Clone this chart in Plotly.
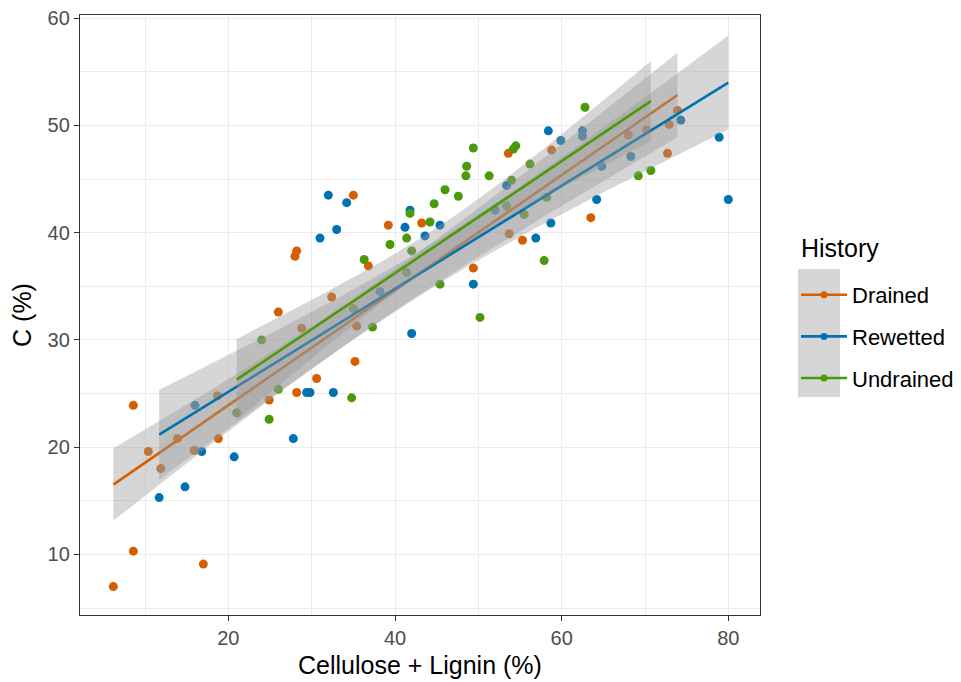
import numpy as np
import plotly.graph_objects as go

# ---- data ----
drained_x = [8.6, 24.9, 10.4, 18.8, 13.9, 15.9, 11.9, 8.6, 17.0, 6.2, 18.7, 35.0, 28.2, 28.0,
             39.2, 43.2, 36.8, 32.4, 26.0, 28.8, 35.4, 35.2, 30.6, 28.2, 53.6, 58.8, 63.5,
             53.7, 55.3, 49.4, 73.9, 72.9, 70.2, 68.0, 72.7]
drained_y = [23.9, 24.4, 19.6, 20.8, 20.8, 19.7, 18.0, 10.3, 9.1, 7.0, 24.8, 43.5, 38.3, 37.8,
             40.7, 40.9, 36.9, 34.0, 32.6, 31.1, 31.3, 28.0, 26.4, 25.1, 47.4, 47.7, 41.4,
             39.9, 39.3, 36.7, 51.4, 50.1, 49.6, 49.1, 47.4]

rewetted_x = [16.0, 16.8, 20.7, 14.8, 11.7, 32.0, 34.2, 33.0, 31.0, 41.8, 41.2, 43.6, 38.2,
              42.0, 29.4, 29.8, 32.6, 27.8, 58.4, 62.5, 62.5, 59.9, 53.4, 45.4, 58.7, 64.2,
              56.9, 49.4, 74.3, 78.9, 68.3, 64.8, 80.0, 52.0]
rewetted_y = [23.9, 19.6, 19.1, 16.3, 15.3, 43.5, 42.8, 40.3, 39.5, 42.1, 40.5, 39.7, 34.5,
              30.6, 25.1, 25.1, 25.1, 20.8, 49.5, 49.5, 49.0, 48.6, 44.4, 40.7, 40.9, 43.1,
              39.5, 35.2, 50.5, 48.9, 47.1, 46.2, 43.1, 42.1]

undrained_x = [21.0, 24.9, 41.8, 44.2, 41.4, 39.4, 42.0, 36.3, 35.0, 37.3, 24.0, 26.0, 34.8,
               62.8, 49.4, 54.5, 54.2, 48.6, 48.5, 56.2, 51.3, 46.0, 47.6, 54.0, 44.7, 41.4,
               53.4, 55.5, 57.9, 45.4, 50.2, 70.7, 69.2, 58.2]
undrained_y = [23.2, 22.6, 41.8, 41.0, 39.5, 38.9, 38.3, 37.5, 32.9, 31.2, 30.0, 25.4, 24.6,
               51.7, 47.9, 48.1, 47.8, 46.2, 45.3, 46.4, 45.3, 44.0, 43.4, 44.9, 42.7, 36.3,
               42.5, 41.7, 37.4, 35.2, 32.1, 45.8, 45.3, 43.3]

groups = ["Drained", "Rewetted", "Undrained"]
colors = {"Drained": "#D55E00", "Rewetted": "#0072B2", "Undrained": "#4A9A0A"}
xs = {"Drained": drained_x, "Rewetted": rewetted_x, "Undrained": undrained_x}
ys = {"Drained": drained_y, "Rewetted": rewetted_y, "Undrained": undrained_y}


def t975(df):
    z = 1.959964
    return z + (z**3 + z) / (4 * df) + (5 * z**5 + 16 * z**3 + 3 * z) / (96 * df**2)


def lm_fit(x, y, n=80):
    x = np.asarray(x, float)
    y = np.asarray(y, float)
    b, a = np.polyfit(x, y, 1)
    resid = y - (a + b * x)
    dof = len(x) - 2
    s = np.sqrt(np.sum(resid**2) / dof)
    sxx = np.sum((x - x.mean())**2)
    grid = np.linspace(x.min(), x.max(), n)
    fit = a + b * grid
    se = s * np.sqrt(1 / len(x) + (grid - x.mean())**2 / sxx)
    t = t975(dof)
    return grid, fit, fit - t * se, fit + t * se


fig = go.Figure()

for g in groups:
    fig.add_trace(go.Scatter(x=xs[g], y=ys[g], mode="markers",
                             marker=dict(color=colors[g], size=9),
                             showlegend=False, hoverinfo="x+y", name=g))

for g in groups:
    gx, fit, lo, hi = lm_fit(xs[g], ys[g])
    fig.add_trace(go.Scatter(x=np.concatenate([gx, gx[::-1]]),
                             y=np.concatenate([hi, lo[::-1]]),
                             fill="toself", fillcolor="rgba(153,153,153,0.4)",
                             line=dict(width=0), mode="lines",
                             showlegend=False, hoverinfo="skip"))
    fig.add_trace(go.Scatter(x=gx, y=fit, mode="lines",
                             line=dict(color=colors[g], width=2.6),
                             showlegend=False, hoverinfo="skip"))

for i, g in enumerate(groups):
    fig.add_trace(go.Scatter(x=[None], y=[None], mode="lines+markers", name=g,
                             line=dict(color=colors[g], width=2.6),
                             marker=dict(color=colors[g], size=7),
                             legendgroup=g, showlegend=True))

# page has an 8px body margin: figure is offset by 8px
OFF = 8
PL, PR, PT, PB = 80, 760, 15, 615  # desired plot area in page pixels
W, H = 961 - 2 * OFF, 682 - OFF
L, T = PL - OFF, PT - OFF
R, B = W - (PR - OFF), H - (PB - OFF)
pw, ph = PR - PL, PB - PT

def px2paper_x(px):
    return (px - PL) / pw

def px2paper_y(py):
    return 1 - (py - PT) / ph

fig.add_shape(type="rect", xref="paper", yref="paper",
              x0=px2paper_x(798), x1=px2paper_x(840),
              y0=px2paper_y(397), y1=px2paper_y(269),
              fillcolor="#D6D6D6", line=dict(width=0), layer="below")

fig.add_annotation(text="History", xref="paper", yref="paper",
                   x=px2paper_x(799), y=px2paper_y(248), xanchor="left", yanchor="middle",
                   showarrow=False, font=dict(size=25, color="black"))

fig.add_annotation(text="Cellulose + Lignin (%)", xref="paper", yref="paper",
                   x=0.5, y=px2paper_y(665), xanchor="center", yanchor="middle",
                   showarrow=False, font=dict(size=25, color="black"))

axis_common = dict(
    showline=True, mirror=True, linecolor="#333333", linewidth=1.3,
    showgrid=True, gridcolor="#EBEBEB", gridwidth=1.3,
    ticks="outside", ticklen=5, tickcolor="#333333", tickwidth=1.1,
    tickfont=dict(family="Liberation Sans, Arial", size=20, color="#4D4D4D"),
    ticklabeloverflow="allow",
    zeroline=False, automargin=False,
)

fig.update_layout(
    width=W, height=H,
    margin=dict(l=L, r=R, t=T, b=B, autoexpand=False),
    paper_bgcolor="white", plot_bgcolor="white",
    font=dict(family="Liberation Sans, Arial", color="black"),
    xaxis=dict(range=[2.2, 83.8], dtick=20, tick0=0,
               minor=dict(dtick=10, showgrid=True, gridcolor="#EBEBEB", gridwidth=0.7),
               **axis_common),
    yaxis=dict(range=[4.35, 60.3], dtick=10, tick0=0,
               minor=dict(dtick=5, showgrid=True, gridcolor="#EBEBEB", gridwidth=0.7),
               title=dict(text="C (%)", font=dict(size=25), standoff=8),
               **axis_common),
    legend=dict(x=px2paper_x(796), y=px2paper_y(274), xanchor="left", yanchor="top",
                font=dict(size=22), tracegroupgap=10, itemwidth=46,
                bgcolor="rgba(0,0,0,0)"),
    showlegend=True,
)

fig.write_html("out.html")
